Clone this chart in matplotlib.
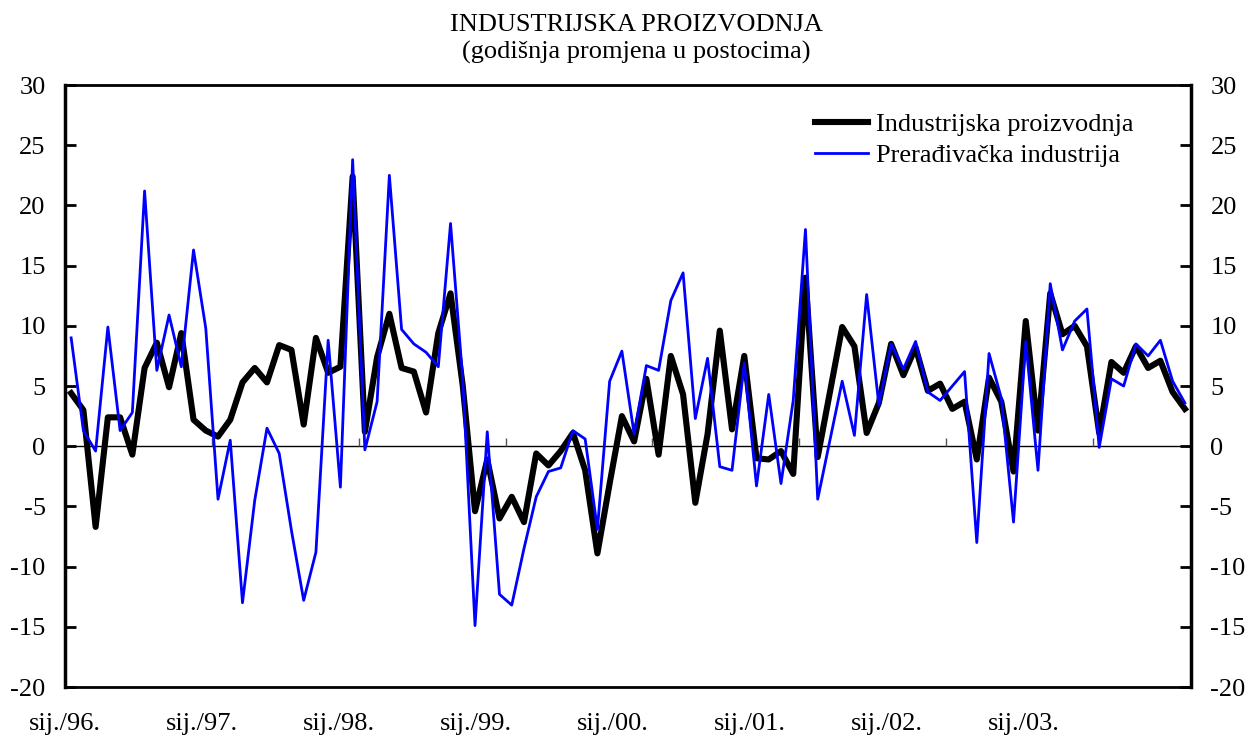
import matplotlib
matplotlib.use("Agg")
import matplotlib.pyplot as plt
import numpy as np

plt.rcParams['font.family'] = ['Liberation Serif', 'DejaVu Serif']
plt.rcParams['font.size'] = 19
plt.rcParams['axes.unicode_minus'] = False

# monthly data, sij. 1996 - kol. 2003
industrija = [4.4, 3.0, -6.7, 2.4, 2.4, -0.7, 6.5, 8.6, 4.9, 9.4, 2.2, 1.3,
              0.8, 2.2, 5.3, 6.5, 5.3, 8.4, 8.0, 1.8, 9.0, 6.1, 6.6, 22.4,
              1.2, 7.4, 11.0, 6.5, 6.2, 2.8, 9.4, 12.7, 5.0, -5.4, -1.1, -6.0,
              -4.2, -6.3, -0.6, -1.6, -0.4, 1.1, -2.0, -8.9, -3.1, 2.5, 0.4, 5.6,
              -0.7, 7.5, 4.3, -4.7, 1.0, 9.6, 1.4, 7.5, -1.0, -1.1, -0.4, -2.3,
              14.0, -0.9, 4.5, 9.9, 8.3, 1.1, 3.6, 8.5, 5.9, 8.2, 4.6, 5.2,
              3.1, 3.7, -1.1, 5.7, 3.7, -2.1, 10.4, 1.3, 12.7, 9.3, 10.0, 8.3,
              1.1, 7.0, 6.1, 8.3, 6.5, 7.1, 4.5, 3.1]

preradjivacka = [9.0, 1.3, -0.4, 9.9, 1.3, 2.8, 21.2, 6.3, 10.9, 6.6, 16.3, 9.8,
                 -4.4, 0.5, -13.0, -4.5, 1.5, -0.6, -7.0, -12.8, -8.8, 8.8, -3.4, 23.8,
                 -0.3, 3.7, 22.5, 9.7, 8.5, 7.8, 6.6, 18.5, 5.5, -14.9, 1.2, -12.3,
                 -13.2, -8.5, -4.2, -2.1, -1.8, 1.3, 0.6, -6.9, 5.4, 7.9, 1.0, 6.7,
                 6.3, 12.1, 14.4, 2.3, 7.3, -1.7, -2.0, 6.9, -3.3, 4.3, -3.1, 3.8,
                 18.0, -4.4, 0.5, 5.4, 0.9, 12.6, 3.4, 8.5, 6.4, 8.7, 4.5, 3.8,
                 5.0, 6.2, -8.0, 7.7, 4.0, -6.3, 8.7, -2.0, 13.5, 8.0, 10.4, 11.4,
                 -0.1, 5.6, 5.0, 8.5, 7.5, 8.8, 5.4, 3.6]

godine = ['96', '97', '98', '99', '00', '01', '02', '03']

n = len(industrija)
x = np.arange(n)

fig = plt.figure(figsize=(12.53, 7.42), dpi=100)
ax = fig.add_axes([0.0519, 0.0741, 0.8986, 0.8113])

ax.plot(x, industrija, color='black', lw=4.4, label='Industrijska proizvodnja', zorder=3)
ax.plot(x, preradjivacka, color='#0000ff', lw=2, label='Prerađivačka industrija', zorder=4)

ax.axhline(0, color='black', lw=1, zorder=2)
granice = np.arange(12, n, 12) - 0.5
ax.vlines(granice, 0, 0.7, color='#555555', lw=1, zorder=2)

ax.set_xlim(-0.5, n - 0.5)
ax.set_ylim(-20, 30)
ax.set_yticks(np.arange(-20, 31, 5))

# year labels (spaced like the original chart)
pos = -0.5 + np.arange(len(godine)) * 11.19
ax.set_xticks(pos)
ax.set_xticklabels(['sij./' + g + '.' for g in godine])
ax.tick_params(axis='x', length=0, pad=19)

ax.tick_params(axis='y', direction='in', length=8, width=2, pad=14,
               left=True, right=True, labelleft=True, labelright=True)

for side in ['left', 'right']:
    ax.spines[side].set_linewidth(2.5)
for side in ['top', 'bottom']:
    ax.spines[side].set_linewidth(2)

fig.text(0.508, 0.9663, 'INDUSTRIJSKA PROIZVODNJA', ha='center', va='center')
fig.text(0.508, 0.929, '(godišnja promjena u postocima)', ha='center', va='center')

ax.legend(loc='upper right', bbox_to_anchor=(0.970, 0.993), frameon=False,
          handlelength=2.0, handletextpad=0.3, labelspacing=0.28, fontsize=19)

fig.savefig('out.png', dpi=100)
